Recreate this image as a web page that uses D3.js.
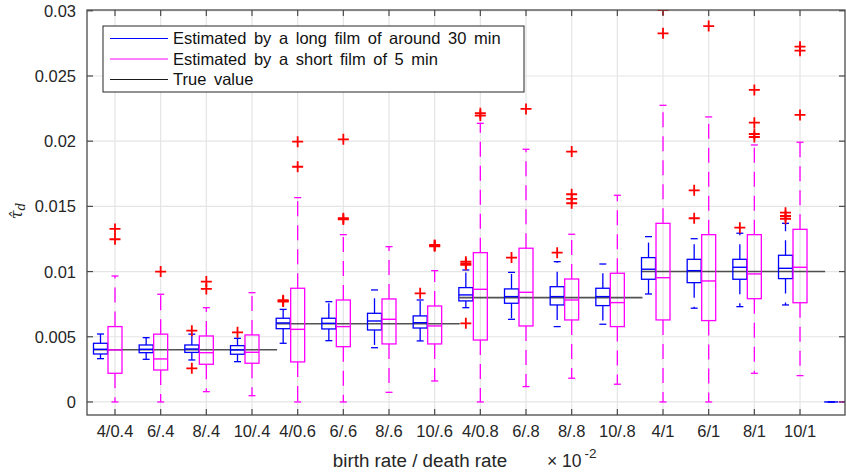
<!DOCTYPE html>
<html>
<head>
<meta charset="utf-8">
<script src="https://cdn.jsdelivr.net/npm/d3@7"></script>
<style>
  body { margin: 0; background: #fff; }
  svg { display: block; font-family: "Liberation Sans", Arial, Helvetica, sans-serif; }
</style>
</head>
<body>
<svg id="chart" width="846" height="472"></svg>
<script>
// ---------------- DATA ----------------
const categories = ["4/0.4","6/.4","8/.4","10/.4","4/0.6","6/.6","8/.6","10/.6",
                    "4/0.8","6/.8","8/.8","10/.8","4/1","6/1","8/1","10/1",""];
const yTicks = [0, 0.005, 0.01, 0.015, 0.02, 0.025, 0.03];
const yTickLabels = ["0","0.005","0.01","0.015","0.02","0.025","0.03"];

// true value for each group of four categories
const trueGroups = [[1,4],[5,8],[9,12],[13,16]];
const trueValues = [0.004, 0.006, 0.008, 0.01];

// Long film (~30 min) box statistics
const longLow  = [0.00332,0.00327,0.00322,0.00309,0.00450,0.00470,0.00416,0.00468,0.00723,0.00634,0.00578,0.00596,0.00828,0.00719,0.00731,0.00744,0];
const longQ1   = [0.00368,0.00378,0.00380,0.00366,0.00562,0.00560,0.00552,0.00567,0.00775,0.00757,0.00744,0.00739,0.00941,0.00915,0.00941,0.00946,0];
const longMed  = [0.00404,0.00404,0.00406,0.00399,0.00606,0.00603,0.00621,0.00608,0.00821,0.00808,0.00808,0.00808,0.01018,0.01007,0.01033,0.01025,0];
const longQ3   = [0.00450,0.00437,0.00437,0.00432,0.00642,0.00642,0.00680,0.00660,0.00877,0.00867,0.00884,0.00872,0.01107,0.01094,0.01094,0.01125,0];
const longHigh = [0.00521,0.00493,0.00520,0.00488,0.00710,0.00769,0.00859,0.00782,0.01012,0.00994,0.01076,0.01058,0.01268,0.01252,0.01294,0.01370,0];
const longOut  = [[],[],[0.00547,0.00258],[0.00534],[0.00775,0.00770,0.00780],[],[],[0.00833],
                  [0.01076,0.01062,0.01052,0.00603],[0.01107],[0.01145],[],[],[0.01623,0.01409],[0.01337],[0.01452,0.01426,0.01405],[]];

// Short film (5 min) box statistics
const shortLow  = [0,0,0.00079,0.00048,0,0,0.00074,0.00161,0,0.00118,0.00182,0.00136,0,0,0.00220,0.00202,0];
const shortQ1   = [0.00220,0.00245,0.00289,0.00297,0.00307,0.00424,0.00445,0.00445,0.00475,0.00583,0.00629,0.00578,0.00629,0.00624,0.00792,0.00761,0];
const shortMed  = [0.00399,0.00330,0.00378,0.00381,0.00557,0.00578,0.00634,0.00583,0.00864,0.00841,0.00782,0.00762,0.00953,0.00928,0.00982,0.01033,0];
const shortQ3   = [0.00578,0.00520,0.00506,0.00514,0.00872,0.00782,0.00790,0.00736,0.01145,0.01179,0.00943,0.00987,0.01370,0.01283,0.01283,0.01324,0];
const shortHigh = [0.00966,0.00826,0.00723,0.00838,0.01567,0.01283,0.01191,0.01007,0.02137,0.01938,0.01286,0.01585,0.02275,0.02186,0.01971,0.01992,0];
const shortOut  = [[0.01327,0.01248],[0.01000],[0.00923,0.00867],[],[0.01996,0.01804],[0.02014,0.01409,0.01400],[],[0.01199,0.01204,0.01194],
                   [0.02214,0.02196],[0.02247],[0.01920,0.01593,0.01557,0.01524],[],[0.03006,0.02827],[0.02883],[0.02393,0.02142,0.02055,0.02032],[0.02725,0.02694,0.02201],[]];

const legendLabels = ["Estimated by a long film of around 30 min","Estimated by a short film of 5 min","True value"];
const colLong = "#0000ff", colShort = "#ff00ff", colTrue = "#1a1a1a", colOut = "#ff0000";

// ---------------- LAYOUT ----------------
const L = 87, R = 845, T = 10, B = 415;
const svg = d3.select("#chart");
const x = d3.scaleLinear().domain([0.387, 16.985]).range([L, R]);
const y = d3.scaleLinear().domain([-0.001, 0.03006]).range([B, T]);

svg.append("defs").append("clipPath").attr("id","clip")
  .append("rect").attr("x", L).attr("y", T).attr("width", R-L).attr("height", B-T);

// grid
const grid = svg.append("g");
grid.selectAll("line.gx").data(d3.range(1,17)).enter().append("line")
  .attr("x1", d=>x(d)).attr("x2", d=>x(d)).attr("y1", T).attr("y2", B)
  .attr("stroke","#e5e5e5").attr("stroke-width",1.2);
grid.selectAll("line.gy").data(yTicks).enter().append("line")
  .attr("y1", d=>y(d)).attr("y2", d=>y(d)).attr("x1", L).attr("x2", R)
  .attr("stroke","#e5e5e5").attr("stroke-width",1.2);

const plot = svg.append("g").attr("clip-path","url(#clip)");

// true value lines
trueGroups.forEach((g,i)=>{
  plot.append("line")
    .attr("x1", x(g[0]-0.46)).attr("x2", x(g[1]+0.55))
    .attr("y1", y(trueValues[i])).attr("y2", y(trueValues[i]))
    .attr("stroke", colTrue).attr("stroke-opacity",0.75).attr("stroke-width",1.6);
});

function drawBoxes(low,q1,med,q3,high,outs,color,offset){
  const bw = 14, cw = 7;
  categories.forEach((c,i)=>{
    const cx = x(i+1) + offset;
    const g = plot.append("g");
    // whiskers (dashed, starting from box edges)
    g.append("line").attr("x1",cx).attr("x2",cx).attr("y1",y(q3[i])).attr("y2",y(high[i]))
     .attr("stroke",color).attr("stroke-width",1.3).attr("stroke-dasharray","15,9");
    g.append("line").attr("x1",cx).attr("x2",cx).attr("y1",y(q1[i])).attr("y2",y(low[i]))
     .attr("stroke",color).attr("stroke-width",1.3).attr("stroke-dasharray","15,9");
    // caps
    g.append("line").attr("x1",cx-cw/2).attr("x2",cx+cw/2).attr("y1",y(high[i])).attr("y2",y(high[i]))
     .attr("stroke",color).attr("stroke-width",1.3);
    g.append("line").attr("x1",cx-cw/2).attr("x2",cx+cw/2).attr("y1",y(low[i])).attr("y2",y(low[i]))
     .attr("stroke",color).attr("stroke-width",1.3);
    // box
    g.append("rect").attr("x",cx-bw/2).attr("width",bw)
     .attr("y",y(q3[i])).attr("height",Math.max(0,y(q1[i])-y(q3[i])))
     .attr("fill","none").attr("stroke",color).attr("stroke-width",1.3);
    // median
    g.append("line").attr("x1",cx-bw/2).attr("x2",cx+bw/2).attr("y1",y(med[i])).attr("y2",y(med[i]))
     .attr("stroke",color).attr("stroke-width",1.4);
    // outliers
    outs[i].forEach(v=>{
      const oy = y(v), s = 5.5;
      g.append("path").attr("d",`M${cx-s},${oy}H${cx+s}M${cx},${oy-s}V${oy+s}`)
       .attr("stroke",colOut).attr("stroke-width",1.8).attr("fill","none");
    });
  });
}
drawBoxes(longLow,longQ1,longMed,longQ3,longHigh,longOut,colLong,-14.5);
drawBoxes(shortLow,shortQ1,shortMed,shortQ3,shortHigh,shortOut,colShort,0);

// axes box
const axc = "#4a4a4a";
svg.append("rect").attr("x",L).attr("y",T).attr("width",R-L).attr("height",B-T)
  .attr("fill","none").attr("stroke",axc).attr("stroke-width",1.3);
const tl = 6;
const ax = svg.append("g").attr("stroke",axc).attr("stroke-width",1.2);
d3.range(1,17).forEach(p=>{
  ax.append("line").attr("x1",x(p)).attr("x2",x(p)).attr("y1",B).attr("y2",B-tl);
  ax.append("line").attr("x1",x(p)).attr("x2",x(p)).attr("y1",T).attr("y2",T+tl);
});
yTicks.forEach(v=>{
  ax.append("line").attr("x1",L).attr("x2",L+tl).attr("y1",y(v)).attr("y2",y(v));
  ax.append("line").attr("x1",R).attr("x2",R-tl).attr("y1",y(v)).attr("y2",y(v));
});

// tick labels
const tc = "#262626";
svg.append("g").selectAll("text").data(categories.slice(0,16)).enter().append("text")
  .attr("x",(d,i)=>x(i+1)).attr("y",437).attr("text-anchor","middle")
  .attr("font-size",16.5).attr("fill",tc).text(d=>d);
svg.append("g").selectAll("text").data(yTicks).enter().append("text")
  .attr("x",76).attr("y",d=>y(d)+6).attr("text-anchor","end")
  .attr("font-size",16.5).attr("fill",tc).text((d,i)=>yTickLabels[i]);

// axis labels
svg.append("text").attr("x",420).attr("y",467).attr("text-anchor","middle")
  .attr("font-size",18.8).attr("fill",tc).text("birth rate / death rate");
const ex = svg.append("text").attr("x",547).attr("y",467).attr("font-size",17.5).attr("fill",tc);
ex.append("tspan").text("\u00d7 10");
ex.append("tspan").attr("dx",3).attr("dy",-9).attr("font-size",13.5).text("-2");

const yl = svg.append("text").attr("transform","translate(22,211) rotate(-90)")
  .attr("text-anchor","middle").attr("font-size",16).attr("fill",tc)
  .attr("font-family","'DejaVu Serif', 'Liberation Serif', serif").attr("font-style","italic");
yl.append("tspan").text("\u03c4\u0302");
yl.append("tspan").attr("dy",3).attr("font-size",12).text("d");

// legend
const lg = svg.append("g");
lg.append("rect").attr("x",103).attr("y",26).attr("width",421).attr("height",66)
  .attr("fill","#fff").attr("stroke","#262626").attr("stroke-width",1);
const lcols = [colLong, colShort, colTrue];
legendLabels.forEach((t,i)=>{
  const ly = 38.5 + i*20.5;
  lg.append("line").attr("x1",110).attr("x2",168).attr("y1",ly).attr("y2",ly)
    .attr("stroke",lcols[i]).attr("stroke-width",1.2);
  lg.append("text").attr("x",173).attr("y",ly+5.8).attr("font-size",16.5)
    .attr("word-spacing",3).attr("fill","#111").text(t);
});
</script>
</body>
</html>
